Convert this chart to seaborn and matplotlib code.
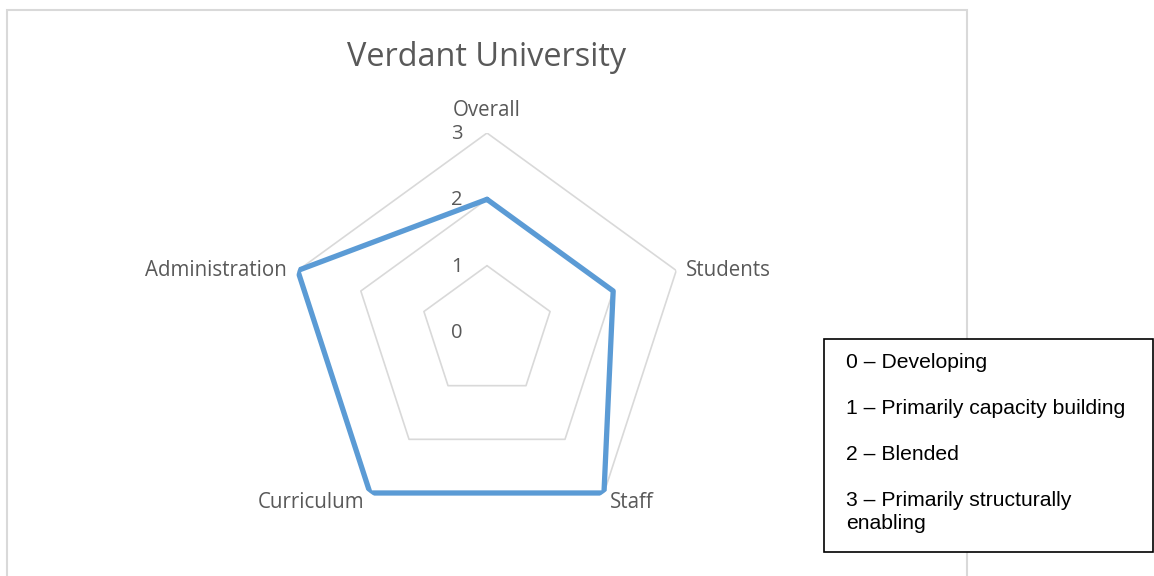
import numpy as np
import pandas as pd
import matplotlib
matplotlib.use("Agg")
import matplotlib.pyplot as plt
from matplotlib.patches import Rectangle
import seaborn as sns

title = "Verdant University"
categories = ["Overall", "Students", "Staff", "Curriculum", "Administration"]
values = [2, 2, 3, 3, 3]
ring_levels = [1, 2, 3]
tick_labels = ["0", "1", "2", "3"]
legend_lines = ["0 – Developing", "1 – Primarily capacity building", "2 – Blended",
                "3 – Primarily structurally\nenabling"]

sns.set_theme(style="white")
plt.rcParams["font.family"] = ["Open Sans", "DejaVu Sans"]

W, H = 1154, 576
fig = plt.figure(figsize=(W / 100, H / 100), dpi=100)

# chart area border
fig.patches.append(Rectangle((7 / W, -0.05), 960 / W, (H - 10) / H + 0.05,
                             transform=fig.transFigure, fill=False,
                             edgecolor="#D9D9D9", lw=1.5))

cx, cy, R = 487, H - 332, 199
ax = fig.add_axes([(cx - R) / W, (cy - R) / H, 2 * R / W, 2 * R / H], projection="polar")
ax.set_theta_offset(np.pi / 2)
ax.set_theta_direction(-1)
ax.set_ylim(0, 3)
ax.grid(False)
ax.spines["polar"].set_visible(False)
ax.set_xticks([])
ax.set_yticks([])
ax.patch.set_alpha(0)

n = len(categories)
angles = np.arange(n) * 2 * np.pi / n
closed_angles = np.append(angles, angles[0])

for lvl in ring_levels:
    ax.plot(closed_angles, [lvl] * (n + 1), color="#D9D9D9", lw=1.2, zorder=1)

df = pd.DataFrame({"theta": closed_angles, "r": values + values[:1]})
sns.lineplot(data=df, x="theta", y="r", ax=ax, sort=False, color="#5B9BD5",
             lw=3.8, zorder=3, estimator=None)
ax.set_xlabel("")
ax.set_ylabel("")
ax.set_ylim(0, 3)

# radial tick labels
for i, t in enumerate(tick_labels):
    ax.annotate(t, xy=(0, i), xytext=(-30, -1), textcoords="offset pixels",
                ha="center", va="center", fontsize=14.5, color="#595959")

# category labels
offsets = [((0, 23), "center", "center"),
           ((10, 0), "left", "center"),
           ((6, -10), "left", "center"),
           ((-6, -10), "right", "center"),
           ((-11, 0), "right", "center")]
for ang, cat, (off, ha, va) in zip(angles, categories, offsets):
    ax.annotate(cat, xy=(ang, 3), xytext=off, textcoords="offset pixels",
                ha=ha, va=va, fontsize=14.8, color="#595959")

fig.text(487 / W, 1 - 57 / H, title, ha="center", va="center",
         fontsize=23.4, color="#595959")

# legend box
fig.patches.append(Rectangle((824 / W, 1 - 552 / H), 329 / W, 213 / H,
                             transform=fig.transFigure, fill=True, facecolor="white",
                             edgecolor="black", lw=1.2, zorder=5))
ys = [362, 408, 454, 512]
for y, txt in zip(ys, legend_lines):
    fig.text(846 / W, 1 - y / H, txt, ha="left", va="center", fontsize=15.2,
             family=["Liberation Sans", "DejaVu Sans"], color="black",
             linespacing=1.25, zorder=6)

fig.savefig("out.png", dpi=100)
